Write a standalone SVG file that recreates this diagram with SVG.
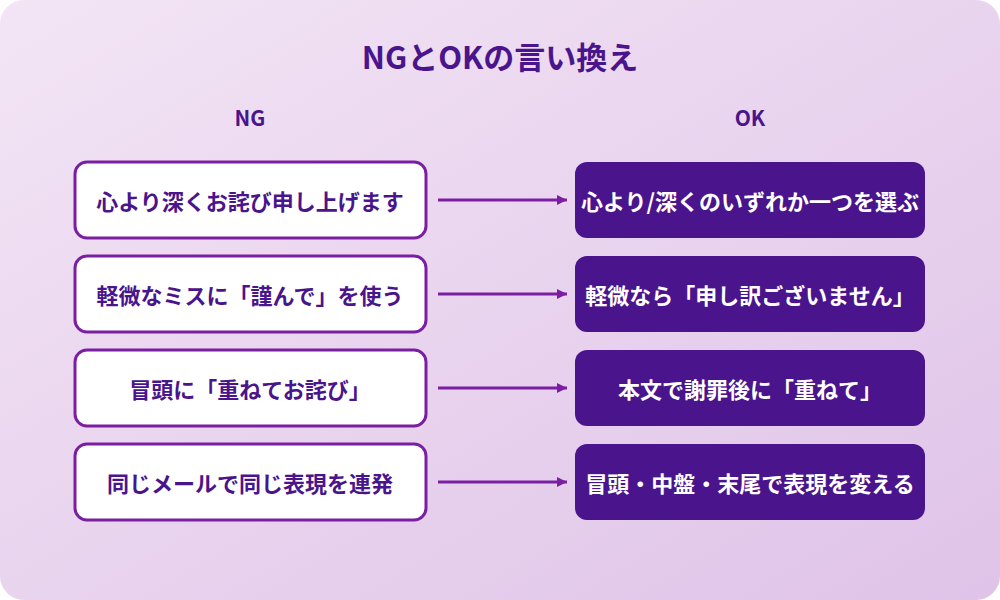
<svg xmlns="http://www.w3.org/2000/svg" width="1000" height="600" viewBox="0 0 1000 600">
<defs>
<linearGradient id="bg" x1="0" y1="0" x2="1" y2="1"><stop offset="0" stop-color="#f3e5f5"/><stop offset="1" stop-color="#dfc3e8"/></linearGradient>
<marker id="ah" viewBox="0 0 10 10" refX="10" refY="5" markerWidth="10" markerHeight="10" markerUnits="userSpaceOnUse" orient="auto"><path d="M0,0 L10,5 L0,10 z" fill="#7b1fa2"/></marker>
<style>
text{font-family:"Noto Sans CJK JP","Noto Sans",sans-serif;font-weight:bold;text-anchor:middle;dominant-baseline:central}
.ng rect{fill:#fff;stroke:#7b1fa2;stroke-width:3}
.ng text{fill:#4a148c;font-size:22px}
.ok rect{fill:#4a148c}
.ok text{fill:#fff;font-size:22px}
.c line{stroke:#7b1fa2;stroke-width:3;marker-end:url(#ah)}
</style>
</defs>
<rect width="1000" height="600" rx="24" fill="url(#bg)"/>
<text x="500" y="55" font-size="31" fill="#4a148c">NGとOKの言い換え</text>
<text x="250" y="117" font-size="21" fill="#4a148c">NG</text>
<text x="750" y="117" font-size="21" fill="#4a148c">OK</text>
<g class="c">
<line x1="438" y1="200" x2="567" y2="200"/>
<line x1="438" y1="294" x2="567" y2="294"/>
<line x1="438" y1="388" x2="567" y2="388"/>
<line x1="438" y1="482" x2="567" y2="482"/>
</g>
<g id="ng1" class="ng"><rect x="75" y="162" width="351" height="76" rx="12"/><text x="250" y="200">心より深くお詫び申し上げます</text></g>
<g id="ng2" class="ng"><rect x="75" y="256" width="351" height="76" rx="12"/><text x="250" y="294">軽微なミスに「謹んで」を使う</text></g>
<g id="ng3" class="ng"><rect x="75" y="350" width="351" height="76" rx="12"/><text x="250" y="388">冒頭に「重ねてお詫び」</text></g>
<g id="ng4" class="ng"><rect x="75" y="444" width="351" height="76" rx="12"/><text x="250" y="482">同じメールで同じ表現を連発</text></g>
<g id="ok1" class="ok"><rect x="575" y="162" width="350" height="76" rx="12"/><text x="750" y="200">心より/深くのいずれか一つを選ぶ</text></g>
<g id="ok2" class="ok"><rect x="575" y="256" width="350" height="76" rx="12"/><text x="750" y="294">軽微なら「申し訳ございません」</text></g>
<g id="ok3" class="ok"><rect x="575" y="350" width="350" height="76" rx="12"/><text x="750" y="388">本文で謝罪後に「重ねて」</text></g>
<g id="ok4" class="ok"><rect x="575" y="444" width="350" height="76" rx="12"/><text x="750" y="482">冒頭・中盤・末尾で表現を変える</text></g>
</svg>
